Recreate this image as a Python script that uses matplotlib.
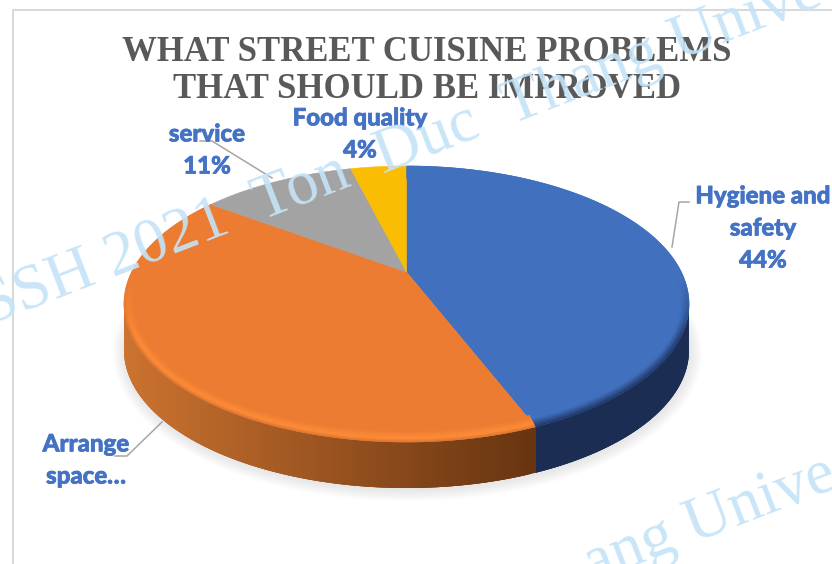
import numpy as np
import matplotlib
matplotlib.use("Agg")
import matplotlib.pyplot as plt
import matplotlib.patheffects as pe
from matplotlib.collections import LineCollection, PolyCollection
from matplotlib.colors import to_rgb
from matplotlib.patches import Ellipse

categories = ["Hygiene and safety", "Arrange space", "service", "Food quality"]
values = [44, 41, 11, 4]
face_colors = ["#4170BF", "#EB7C31", "#A3A3A3", "#FBBC04"]
title_lines = "WHAT STREET CUISINE PROBLEMS\nTHAT SHOULD BE IMPROVED"
label_texts = ["Hygiene and\nsafety\n44%", "Arrange\nspace…", "service\n11%", "Food quality\n4%"]
label_pos = [(763, 228), (86, 460), (207, 150), (360, 134)]

# pie geometry in pixels
cx, cy = 406.5, 304
rx, ry = 282.5, 138
apex_shift = 32   # the centre of the slices sits above the centre of the ellipse
depth = 46
persp = 2 * apex_shift / (2 * ry)


def project(t, r=1.0):
    # t: fraction of the circle clockwise from 12 o'clock
    u = r * np.sin(2 * np.pi * t)
    v = r * np.cos(2 * np.pi * t)
    w = 1 + persp * v
    x = cx + rx * np.sqrt(1 - persp ** 2) * u / w
    y = cy - (ry * v + apex_shift) / w
    return x, y


def mix(c1, c2, k):
    k = np.clip(k, 0, 1)
    return tuple((1 - k) * np.array(to_rgb(c1)) + k * np.array(to_rgb(c2)))


fig = plt.figure(figsize=(8.32, 5.64), dpi=100)
ax = fig.add_axes([0, 0, 1, 1])
ax.set_xlim(0, 832)
ax.set_ylim(564, 0)
ax.axis("off")

# chart frame, runs off the page on the right and bottom
ax.plot([832, 13, 13], [10, 10, 564], color="#D9D9D9", lw=1.5, zorder=1)

# soft shadow
for i in range(12):
    ax.add_patch(Ellipse((cx + 1, cy + depth + 3), 2 * (rx + 12 - i * 1.6), 2 * (ry + 10 - i * 1.4),
                         fc="#BFBFBF", ec="none", alpha=0.045, zorder=2))

fracs = np.array(values) / sum(values)
edges = np.concatenate([[0], np.cumsum(fracs)])

# side wall, narrow overlapping strips along the front of the outline
for i in range(len(values)):
    ts = np.linspace(edges[i], edges[i + 1], 220)
    xs, ys = project(ts)
    strips, strip_colors = [], []
    for j in range(len(ts) - 1):
        if ys[j] < cy and ys[j + 1] < cy:
            continue
        k = min(j + 3, len(ts) - 1)
        strips.append([(xs[j], ys[j])] + [(xs[m], ys[m]) for m in range(j + 1, k + 1)]
                      + [(xs[m], ys[m] + depth) for m in range(k, j - 1, -1)])
        if i == 0:
            strip_colors.append(to_rgb("#1B2D52"))
        else:
            strip_colors.append(mix("#CC7330", "#693511", (xs[j] - 124) / 403))
    if strips:
        ax.add_collection(PolyCollection(strips, facecolors=strip_colors, edgecolors="none", zorder=3))

# top face
x0, y0 = project(0, 0)
for i in range(len(values)):
    ts = np.linspace(edges[i], edges[i + 1], 200)
    xs, ys = project(ts)
    ax.fill(np.r_[x0, xs], np.r_[y0, ys], color=face_colors[i], lw=0.4, zorder=4)

# rounded rim on the front of the top face
for i in range(2):
    ts = np.linspace(edges[i], edges[i + 1], 300)
    xs, ys = project(ts)
    for b in np.arange(0.5, 13, 0.8):
        px = cx + (xs - cx) * (rx - b) / rx
        py = cy + (ys - cy) * (ry - b) / ry
        pts = np.column_stack([px, py])
        segs = np.stack([pts[:-1], pts[1:]], axis=1)
        fade = np.clip((py[:-1] - cy + 25) / 60, 0, 1)
        cols = []
        for f in fade:
            if i == 0:
                edge = mix("#1F3562", face_colors[0], b / 9)
                cols.append(mix(face_colors[0], edge, f))
            else:
                if b < 4:
                    edge = mix("#D97430", "#FF8C38", b / 4)
                else:
                    edge = mix("#FF8C38", face_colors[1], (b - 4) / 8)
                cols.append(mix(face_colors[1], edge, f))
        ax.add_collection(LineCollection(segs, colors=cols, linewidths=1.1, zorder=5))

# leader lines
leader_color = "#A6A6A6"
ax.plot([200, 212, 272], [141, 141, 178], color=leader_color, lw=1.1, zorder=6)
ax.plot([672, 679, 689], [247, 202, 202], color=leader_color, lw=1.1, zorder=6)
ax.plot([162, 127, 115], [422, 456, 456], color=leader_color, lw=1.1, zorder=6)

ax.text(427, 71, title_lines, ha="center", va="center", family="Liberation Serif",
        fontweight="bold", fontsize=25, color="#595959", linespacing=1.13, zorder=7)

for txt, (lx, ly) in zip(label_texts, label_pos):
    ax.text(lx, ly, txt, ha="center", va="center", family="Lato", fontweight=900,
            fontsize=17.3, color="#4472C4", linespacing=1.48, zorder=7,
            path_effects=[pe.withStroke(linewidth=0.5, foreground="#4472C4")])

# diagonal watermark across the page
wm = dict(family="Liberation Serif", fontsize=46, color="#C5E3F8", rotation=21, alpha=0.92,
          rotation_mode="anchor", ha="left", va="baseline", zorder=8, clip_on=True)
ax.text(-11, 325, "SSH 2021  Ton  Duc  Thang Unive", **wm)
ax.text(592, 582, "ang Unive", **wm)

fig.savefig("out.png", dpi=100)
